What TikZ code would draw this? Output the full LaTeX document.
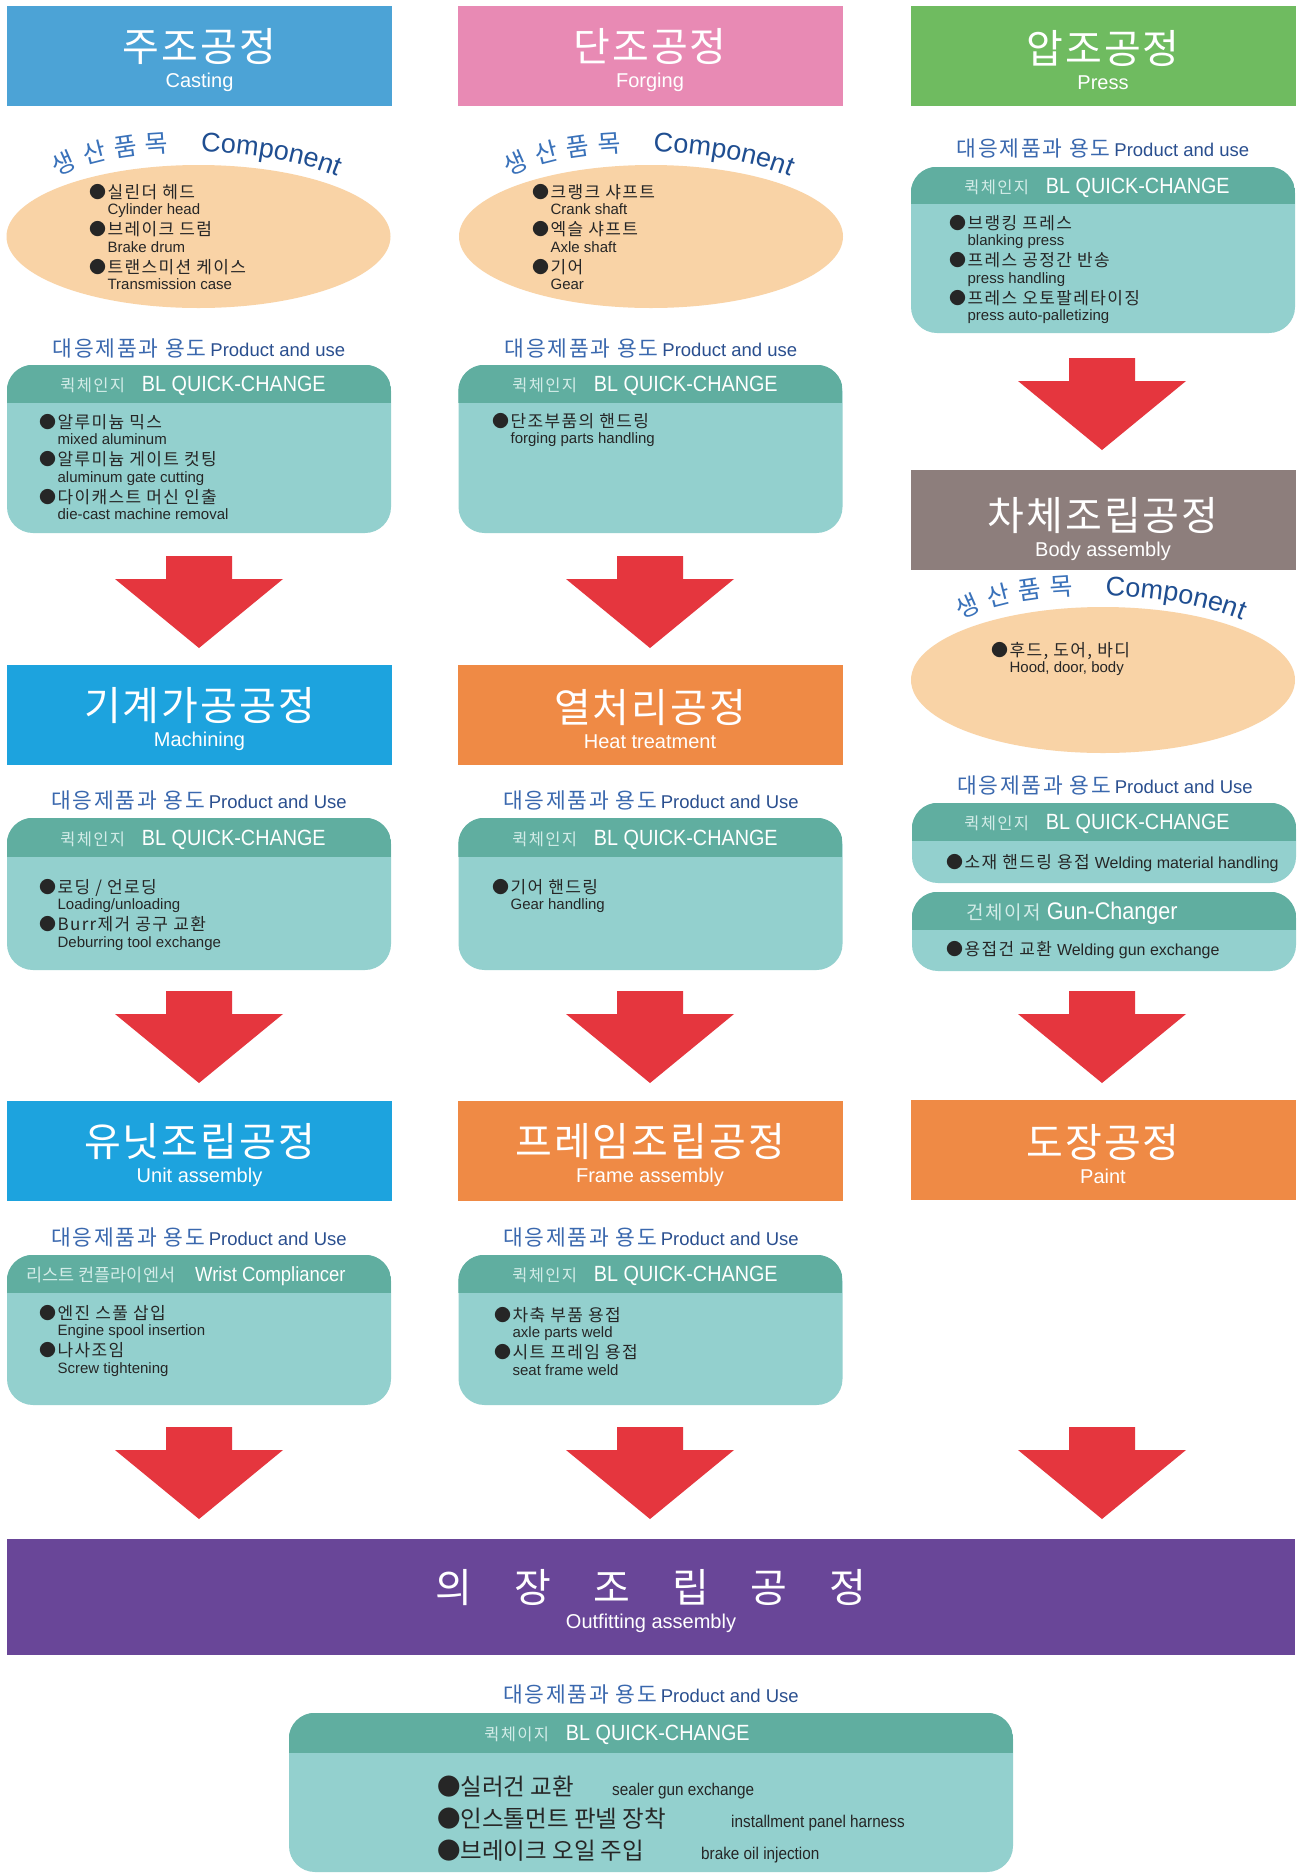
\documentclass[tikz,border=0pt]{standalone}
\usepackage{fontspec}
\setmainfont{Liberation Sans}
\newfontfamily\kr{Noto Sans CJK KR}
\newfontfamily\krs[LetterSpace=8]{Noto Sans CJK KR}
\newfontfamily\krh[LetterSpace=5]{Noto Sans CJK KR}
\newfontfamily\cond[FakeStretch=0.9]{Liberation Sans}
\usetikzlibrary{shapes.geometric}
\usetikzlibrary{decorations.text}

\definecolor{castblue}{HTML}{4CA3D6}
\definecolor{forgepink}{HTML}{E88AB4}
\definecolor{pressgreen}{HTML}{6FBB60}
\definecolor{machblue}{HTML}{1DA3DE}
\definecolor{heatorange}{HTML}{EF8A45}
\definecolor{bodygray}{HTML}{8D7E7C}
\definecolor{outpurple}{HTML}{694698}
\definecolor{tealbody}{HTML}{93D0CE}
\definecolor{tealband}{HTML}{60AEA0}
\definecolor{peach}{HTML}{F9D3A6}
\definecolor{arrred}{HTML}{E5363E}
\definecolor{lblblue}{HTML}{2A4F8F}
\definecolor{lblkr}{HTML}{3A68AE}
\definecolor{compblue}{HTML}{1F4E91}
\definecolor{compkr}{HTML}{3A72BA}
\definecolor{bandkr}{HTML}{D3ECE8}
\definecolor{itemtext}{HTML}{262626}

\newcommand\hd[3][42pt]{{\krh\fontsize{40}{40}\selectfont\rule{0pt}{#1}#2}\\#3}
\newcommand\bul[2]{{\krs\fontsize{17}{17}\selectfont ●#1}\\[-2.3pt]\hspace*{18.4pt}#2}
\newcommand\prodlbl[1]{{\krs\fontsize{21.5}{21.5}\selectfont\color{lblkr}대응제품과 용도}\hspace{4pt}#1}
\newcommand\bandtxt[2]{{\krs\color{bandkr}\fontsize{16.5}{16.5}\selectfont #1}\hspace{17pt}{\cond\fontsize{22}{22}\selectfont #2}}
\newcommand\band[2]{\begin{scope}\clip[rounded corners=26pt] (#1.north west) rectangle (#1.south east);\fill[tealband] (#1.north west) rectangle ([yshift=-#2pt]#1.north east);\end{scope}}

\begin{document}
\begin{tikzpicture}[x=1pt,y=-1pt,
  hdr/.style={rectangle,minimum width=385pt,minimum height=100pt,inner sep=0,text=white,align=center,font=\fontsize{20}{26}\selectfont},
  ell/.style={ellipse,fill=peach,minimum width=384pt,minimum height=143pt,inner sep=0},
  qbox/.style={rectangle,rounded corners=26pt,fill=tealbody,minimum width=384pt,inner sep=0},
  lbl/.style={inner sep=0,text=lblblue,font=\fontsize{18.5}{18.5}\selectfont},
  bandtext/.style={inner sep=0,text=white},
  itm/.style={anchor=north west,inner sep=0,align=left,text=itemtext,font=\fontsize{15}{18.75}\selectfont},
  itm1/.style={anchor=west,inner sep=0,text=itemtext,font=\fontsize{16}{16}\selectfont},
  comp/.style={decorate,decoration={text along path,text align=left,
    text={|\kr\fontsize{25}{25}\selectfont\color{compkr}|생{\hspace{8pt}}산{\hspace{8pt}}품{\hspace{8pt}}목|\normalfont\fontsize{27}{27}\selectfont\color{compblue}|{\hspace{32pt}}Component}}},
  comptitle/.pic={\path[comp] (-142,-60) .. controls (-77,-96) and (73,-92) .. (150,-55);},
  downarr/.pic={\fill[arrred] (-33,0) -- (33,0) -- (33,23) -- (84,23) -- (0,92) -- (-84,23) -- (-33,23) -- cycle;}]
\fill[white] (0,0) rectangle (1302,1875);
\useasboundingbox (0,0) rectangle (1302,1875);

% casting
\node[hdr,fill=castblue] (h1) at (199.5,56) {\hd{주조공정}{Casting}};
\node[ell] (e1) at (198.5,236.5) {};
\pic at (e1.center) {comptitle};
\node[itm] (i1) at (89,184) {\bul{실린더 헤드}{Cylinder head}\\[2.3pt]\bul{브레이크 드럼}{Brake drum}\\[2.3pt]\bul{트랜스미션 케이스}{Transmission case}};
\node[lbl] (l1) at (199,348) {\prodlbl{Product and use}};
\node[qbox,minimum height=168pt] (q1) at (199,449) {};
\band{q1}{38}
\node[bandtext] (b1) at (193,386) {\bandtxt{퀵체인지}{BL QUICK-CHANGE}};
\node[itm] (i2) at (39,414) {\bul{알루미늄 믹스}{mixed aluminum}\\[2.3pt]\bul{알루미늄 게이트 컷팅}{aluminum gate cutting}\\[2.3pt]\bul{다이캐스트 머신 인출}{die-cast machine removal}};
\pic at (199,556) {downarr};

% forging
\node[hdr,fill=forgepink] (h2) at (650,56) {\hd{단조공정}{Forging}};
\node[ell] (e2) at (651,236.5) {};
\pic at (e2.center) {comptitle};
\node[itm] (i3) at (532,184) {\bul{크랭크 샤프트}{Crank shaft}\\[2.3pt]\bul{엑슬 샤프트}{Axle shaft}\\[2.3pt]\bul{기어}{Gear}};
\node[lbl] (l2) at (651,348) {\prodlbl{Product and use}};
\node[qbox,minimum height=168pt] (q2) at (650.5,449) {};
\band{q2}{38}
\node[bandtext] (b2) at (645,386) {\bandtxt{퀵체인지}{BL QUICK-CHANGE}};
\node[itm] (i4) at (492,413) {\bul{단조부품의 핸드링}{forging parts handling}};
\pic at (650,556) {downarr};

% press
\node[hdr,fill=pressgreen] (h3) at (1103,56) {\hd{압조공정}{Press}};
\node[lbl] (l3) at (1103,148) {\prodlbl{Product and use}};
\node[qbox,minimum height=166pt] (q3) at (1103,250) {};
\band{q3}{37}
\node[bandtext] (b3) at (1097,187.5) {\bandtxt{퀵체인지}{BL QUICK-CHANGE}};
\node[itm] (i5) at (949,215) {\bul{브랭킹 프레스}{blanking press}\\[2.3pt]\bul{프레스 공정간 반송}{press handling}\\[2.3pt]\bul{프레스 오토팔레타이징}{press auto-palletizing}};
\pic at (1102,358) {downarr};

% body
\node[hdr,fill=bodygray] (h6) at (1103,519.5) {\hd[52pt]{차체조립공정}{Body assembly}};
\node[ell,minimum height=146pt] (e6) at (1103,680) {};
\pic at (e6.center) {comptitle};
\node[itm] (i6) at (991,642) {\bul{후드, 도어, 바디}{Hood, door, body}};
\node[lbl] (l6) at (1105,785) {\prodlbl{Product and Use}};
\node[qbox,minimum height=80pt] (q6) at (1104,843) {};
\band{q6}{38}
\node[bandtext] (b6) at (1097,824) {\bandtxt{퀵체인지}{BL QUICK-CHANGE}};
\node[itm1] (i7) at (946,863) {{\krs\fontsize{17}{17}\selectfont ●소재 핸드링 용접}\hspace{5pt}Welding material handling};
\node[qbox,minimum height=79pt] (q7) at (1104,931.5) {};
\band{q7}{38}
\node[bandtext] (b7) at (1072,913) {{\krs\color{bandkr}\fontsize{19}{19}\selectfont 건체이저}\hspace{6pt}{\cond\fontsize{24}{24}\selectfont Gun-Changer}};
\node[itm1] (i8) at (946,950) {{\krs\fontsize{17}{17}\selectfont ●용접건 교환}\hspace{5pt}Welding gun exchange};
\pic at (1102,991) {downarr};

% machining
\node[hdr,fill=machblue] (h4) at (199.5,714.5) {\hd{기계가공공정}{Machining}};
\node[lbl] (l4) at (199,800) {\prodlbl{Product and Use}};
\node[qbox,minimum height=152pt] (q4) at (199,894) {};
\band{q4}{39}
\node[bandtext] (b4) at (193,839.5) {\bandtxt{퀵체인지}{BL QUICK-CHANGE}};
\node[itm] (i9) at (39,879) {\bul{로딩 / 언로딩}{Loading/unloading}\\[2.3pt]\bul{Burr제거 공구 교환}{Deburring tool exchange}};
\pic at (199,991) {downarr};

% heat treatment
\node[hdr,fill=heatorange] (h5) at (650,714.5) {\hd{열처리공정}{Heat treatment}};
\node[lbl] (l5) at (651,800) {\prodlbl{Product and Use}};
\node[qbox,minimum height=152pt] (q5) at (650.5,894) {};
\band{q5}{39}
\node[bandtext] (b5) at (645,839.5) {\bandtxt{퀵체인지}{BL QUICK-CHANGE}};
\node[itm] (i10) at (492,879) {\bul{기어 핸드링}{Gear handling}};
\pic at (650,991) {downarr};

% unit assembly
\node[hdr,fill=machblue] (h7) at (199.5,1150.5) {\hd{유닛조립공정}{Unit assembly}};
\node[lbl] (l7) at (199,1237) {\prodlbl{Product and Use}};
\node[qbox,minimum height=150pt] (q8) at (199,1330) {};
\band{q8}{38}
\node[bandtext] (b8) at (186,1276) {{\kr\color{bandkr}\fontsize{17.5}{17.5}\selectfont 리스트 컨플라이엔서}\hspace{20pt}{\cond\fontsize{20.5}{20.5}\selectfont Wrist Compliancer}};
\node[itm] (i11) at (39,1305) {\bul{엔진 스풀 삽입}{Engine spool insertion}\\[2.3pt]\bul{나사조임}{Screw tightening}};
\pic at (199,1427) {downarr};

% frame assembly
\node[hdr,fill=heatorange] (h8) at (650,1150.5) {\hd{프레임조립공정}{Frame assembly}};
\node[lbl] (l8) at (651,1237) {\prodlbl{Product and Use}};
\node[qbox,minimum height=150pt] (q9) at (650.5,1330) {};
\band{q9}{38}
\node[bandtext] (b9) at (645,1276) {\bandtxt{퀵체인지}{BL QUICK-CHANGE}};
\node[itm] (i12) at (494,1307) {\bul{차축 부품 용접}{axle parts weld}\\[2.3pt]\bul{시트 프레임 용접}{seat frame weld}};
\pic at (650,1427) {downarr};

% paint
\node[hdr,fill=heatorange] (h9) at (1103,1150) {\hd{도장공정}{Paint}};
\pic at (1102,1427) {downarr};

% outfitting
\node[hdr,fill=outpurple,minimum width=1288pt,minimum height=116pt] (h10) at (651,1597) {\hd{의\hspace{42pt}장\hspace{42pt}조\hspace{42pt}립\hspace{42pt}공\hspace{42pt}정}{Outfitting assembly}};
\node[lbl] (l10) at (651,1694) {\prodlbl{Product and Use}};
\node[qbox,minimum width=724pt,minimum height=159pt] (q10) at (651,1792.5) {};
\band{q10}{40}
\node[bandtext] (b10) at (617,1735) {\bandtxt{퀵체이지}{BL QUICK-CHANGE}};
\node[itm,font=\cond\fontsize{17}{32}\selectfont] (i13) at (437,1776) {\makebox[175pt][l]{\kr\fontsize{23.5}{23.5}\selectfont ●실러건 교환}sealer gun exchange\\\makebox[294pt][l]{\kr\fontsize{23.5}{23.5}\selectfont ●인스톨먼트 판넬 장착}installment panel harness\\\makebox[264pt][l]{\kr\fontsize{23.5}{23.5}\selectfont ●브레이크 오일 주입}brake oil injection};
\end{tikzpicture}
\end{document}
